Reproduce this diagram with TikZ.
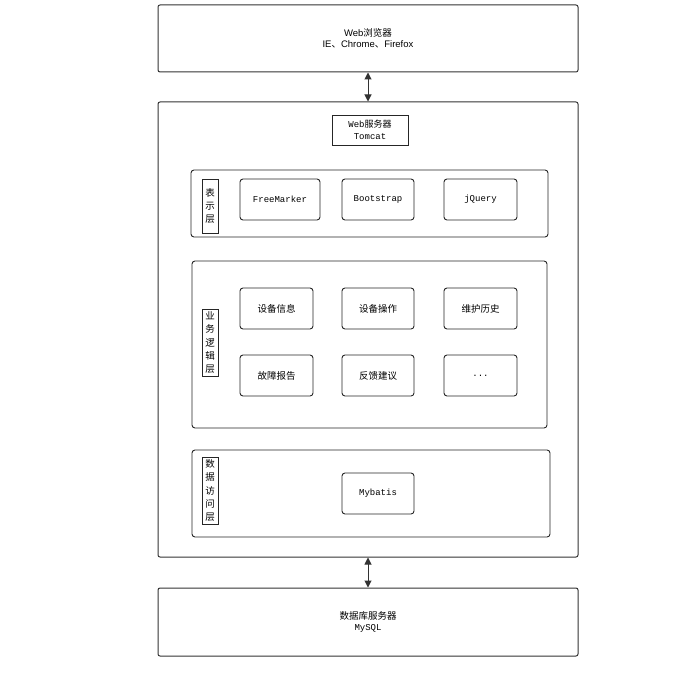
\documentclass[tikz,border=0pt]{standalone}
\usepackage{fontspec}
\setmainfont{Liberation Sans}
\setmonofont{Liberation Mono}
\newfontfamily\cjk{Noto Sans CJK SC}
\usepackage{tikz}
\usetikzlibrary{arrows.meta,positioning}
\tikzset{
  tierbox/.style={
    rectangle,
    rounded corners=2pt,
    draw=black!80,
    line width=1pt,
    align=center,
    minimum width=420pt,
    inner sep=0pt,
    font=\fontsize{9.5}{11.5}\selectfont
  },
  layerbox/.style={
    rectangle,
    rounded corners=3pt,
    draw=black!85,
    line width=0.9pt,
    inner sep=0pt
  },
  itembox/.style={
    rectangle,
    rounded corners=3pt,
    draw=black!85,
    line width=0.9pt,
    align=center,
    minimum width=73pt,
    minimum height=41pt,
    inner sep=0pt,
    font=\fontsize{9}{10}\selectfont
  },
  tagbox/.style={
    rectangle,
    draw=black!85,
    line width=0.9pt,
    align=center,
    minimum width=16pt,
    inner sep=0pt,
    font=\cjk\fontsize{9.5}{13.4}\selectfont
  },
  flowarrow/.style={
    {Triangle[length=7pt,width=7pt]}-{Triangle[length=7pt,width=7pt]},
    line width=1pt,
    draw=black!80
  }
}
\begin{document}
\begin{tikzpicture}[x=1pt,y=-1pt]
\useasboundingbox[fill=white] (0,0) rectangle (693,674);

% tiers
\node[tierbox, minimum height=67pt] (browser) at (368,38.5) {Web{\cjk 浏览器}\\IE{\cjk 、}Chrome{\cjk 、}Firefox};
\node[tierbox, minimum height=455pt] (webserver) at (368,329.5) {};
\node[tierbox, minimum height=68pt] (database) at (368,622) {{\cjk 数据库服务器}\\\ttfamily\small MySQL};

\node[rectangle, draw=black!85, line width=0.9pt, minimum width=76pt, minimum height=30pt, inner sep=0pt, align=center,
  font=\fontsize{9}{12}\selectfont] (tomcat) at (370,130) {\ttfamily Web{\cjk 服务器}\\\ttfamily Tomcat};

% presentation layer
\node[layerbox, minimum width=357pt, minimum height=67pt] (view) at (369.5,203.5) {};
\node[tagbox, minimum height=54pt] (viewtag) at (210,206) {表\\示\\层};
\node[itembox, minimum width=80pt] (freemarker) at (280,199.5) {\ttfamily FreeMarker};
\node[itembox, minimum width=72pt] (bootstrap) at (378,199.5) {\ttfamily Bootstrap};
\node[itembox] (jquery) at (480.5,199.5) {\ttfamily jQuery};

% business layer
\node[layerbox, minimum width=355pt, minimum height=167pt] (logic) at (369.5,344.5) {};
\node[tagbox, minimum height=67pt] (logictag) at (210,342.5) {业\\务\\逻\\辑\\层};
\node[itembox, font=\cjk\fontsize{9.5}{10}\selectfont] (devinfo) at (276.5,308.5) {设备信息};
\node[itembox, minimum width=72pt, font=\cjk\fontsize{9.5}{10}\selectfont] (devop) at (378,308.5) {设备操作};
\node[itembox, font=\cjk\fontsize{9.5}{10}\selectfont] (history) at (480.5,308.5) {维护历史};
\node[itembox, font=\cjk\fontsize{9.5}{10}\selectfont] (fault) at (276.5,375.5) {故障报告};
\node[itembox, minimum width=72pt, font=\cjk\fontsize{9.5}{10}\selectfont] (feedback) at (378,375.5) {反馈建议};
\node[itembox] (more) at (480.5,375.5) {\ttfamily ...};

% data access layer
\node[layerbox, minimum width=358pt, minimum height=87pt] (dao) at (371,493.5) {};
\node[tagbox, minimum height=67pt] (daotag) at (210,490.5) {数\\据\\访\\问\\层};
\node[itembox, minimum width=72pt] (mybatis) at (378,493.5) {\ttfamily Mybatis};

\draw[flowarrow] (browser.south) -- (webserver.north);
\draw[flowarrow] (webserver.south) -- (database.north);
\end{tikzpicture}
\end{document}
